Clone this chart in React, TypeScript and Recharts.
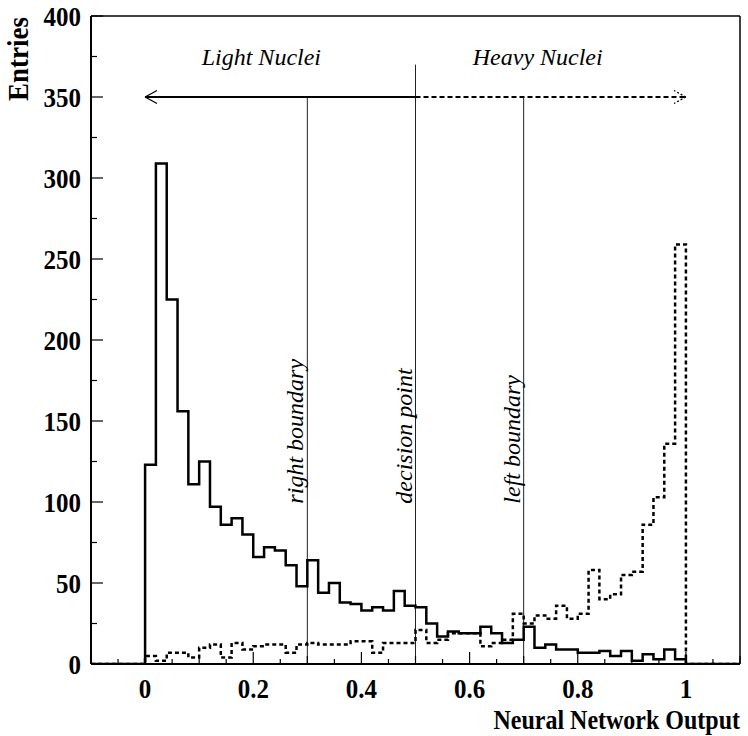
import React from 'react';
import { ComposedChart, Line, XAxis, YAxis, ReferenceLine, Scatter } from 'recharts';

// histogram binning: 60 bins of 0.02 over the axis range, data only in [0, 1]
const BIN_WIDTH = 0.02;
const X_MIN = -0.1;
const X_MAX = 1.1;
const DATA_MIN = 0;

// entries per bin, 0.00 .. 1.00
const lightNuclei = [
  123, 309, 225, 156, 111, 125, 97, 86, 90, 80,
  66, 72, 70, 61, 48, 64, 44, 50, 38, 37,
  33, 35, 33, 45, 36, 35, 25, 17, 20, 19,
  19, 23, 19, 13, 15, 23, 10, 12, 9, 9,
  7, 7, 8, 5, 8, 2, 6, 3, 9, 3,
];
const heavyNuclei = [
  5, 2, 7, 7, 4, 10, 12, 4, 13, 9,
  11, 12, 12, 7, 12, 13, 12, 12, 12, 14,
  14, 7, 13, 13, 13, 21, 13, 15, 19, 19,
  19, 11, 13, 15, 31, 25, 30, 28, 36, 28,
  31, 58, 40, 43, 55, 57, 86, 103, 136, 259,
];

const xTicks = [
  -0.1, -0.05, 0, 0.05, 0.1, 0.15, 0.2, 0.25, 0.3, 0.35, 0.4, 0.45, 0.5,
  0.55, 0.6, 0.65, 0.7, 0.75, 0.8, 0.85, 0.9, 0.95, 1, 1.05, 1.1,
];
const xLabels = [0, 0.2, 0.4, 0.6, 0.8, 1];
const yTicks = [0, 25, 50, 75, 100, 125, 150, 175, 200, 225, 250, 275, 300, 325, 350, 375, 400];
const yLabels = [0, 50, 100, 150, 200, 250, 300, 350, 400];

const boundaries = [
  { x: 0.3, top: 350 },
  { x: 0.5, top: 370 },
  { x: 0.7, top: 350 },
];
const ARROW_Y = 350;

const annotations = [
  { x: 0.215, y: 370, text: 'Light Nuclei', vertical: false },
  { x: 0.726, y: 370, text: 'Heavy Nuclei', vertical: false },
  { x: 0.2925, y: 99, text: 'right boundary', vertical: true },
  { x: 0.493, y: 99, text: 'decision point', vertical: true },
  { x: 0.694, y: 99, text: 'left boundary', vertical: true },
];

const FONT = '"Liberation Serif", "Times New Roman", serif';
const STRETCH = 1.12; // root's bold labels look a little taller than Times

// bin edges with the value of the bin that starts there (stepAfter)
const nBins = Math.round((X_MAX - X_MIN) / BIN_WIDTH);
const offset = Math.round((DATA_MIN - X_MIN) / BIN_WIDTH);
const histo = [];
for (let i = 0; i <= nBins; i++) {
  const k = i - offset;
  histo.push({
    x: Math.round((X_MIN + i * BIN_WIDTH) * 1000) / 1000,
    light: k >= 0 && k < lightNuclei.length ? lightNuclei[k] : 0,
    heavy: k >= 0 && k < heavyNuclei.length ? heavyNuclei[k] : 0,
  });
}

const BoldText = ({ x, y, anchor, size, rotate, children }: any) => (
  <text
    transform={`translate(${x} ${y})${rotate ? ' rotate(-90)' : ''} scale(1 ${STRETCH})`}
    textAnchor={anchor}
    fontSize={size}
    fontWeight="bold"
    fontFamily={FONT}
    fill="#000"
  >
    {children}
  </text>
);

const XTick = (props: any) => {
  const { x, y, payload } = props;
  const v = payload.value;
  const k = Math.round(v * 20);
  const len = k % 4 === 0 ? 12 : k % 2 === 0 ? 8 : 5;
  const label = xLabels.find((l) => Math.abs(l - v) < 1e-6);
  return (
    <g>
      <line x1={x} y1={y} x2={x} y2={y - len} stroke="#000" strokeWidth={1.2} />
      {label !== undefined && (
        <BoldText x={x} y={y + 34} anchor="middle" size={25}>{String(label)}</BoldText>
      )}
    </g>
  );
};

const YTick = (props: any) => {
  const { x, y, payload } = props;
  const v = payload.value;
  const major = yLabels.includes(v);
  return (
    <g>
      <line x1={x} y1={y} x2={x + (major ? 12 : 6)} y2={y} stroke="#000" strokeWidth={1.2} />
      {major && <BoldText x={x - 10} y={y + 10} anchor="end" size={25}>{v}</BoldText>}
    </g>
  );
};

const Annotation = (props: any) => {
  const { cx, cy, payload } = props;
  if (payload.vertical) {
    return (
      <text x={cx} y={cy} transform={`rotate(-90 ${cx} ${cy})`} textAnchor="start"
        fontSize={24} fontStyle="italic" fontFamily={FONT} fill="#000">
        {payload.text}
      </text>
    );
  }
  return (
    <text x={cx} y={cy} textAnchor="middle" fontSize={24} fontStyle="italic" fontFamily={FONT} fill="#000">
      {payload.text}
    </text>
  );
};

export default function App() {
  return (
    <div style={{ position: 'absolute', left: 0, top: 0, width: 748, height: 736, background: '#fff' }}>
      <ComposedChart width={748} height={736} data={histo} margin={{ top: 16, right: 8, left: 0, bottom: 0 }}>
        <XAxis dataKey="x" type="number" domain={[X_MIN, X_MAX]} ticks={xTicks} allowDataOverflow
          height={72} tickSize={0} tickMargin={0} tick={<XTick />} interval={0}
          axisLine={{ stroke: '#000', strokeWidth: 2 }} />
        <YAxis type="number" domain={[0, 400]} ticks={yTicks} allowDataOverflow width={91}
          tickSize={0} tickMargin={0} tick={<YTick />} interval={0}
          axisLine={{ stroke: '#000', strokeWidth: 2 }} />
        <ReferenceLine y={400} stroke="#000" strokeWidth={1.5} />
        <ReferenceLine x={X_MAX} stroke="#000" strokeWidth={1.5} />

        {boundaries.map((b) => (
          <ReferenceLine key={b.x} segment={[{ x: b.x, y: 0 }, { x: b.x, y: b.top }]} stroke="#222" strokeWidth={1} />
        ))}

        <ReferenceLine segment={[{ x: 0, y: ARROW_Y }, { x: 0.5, y: ARROW_Y }]} stroke="#000" strokeWidth={2} />
        <ReferenceLine segment={[{ x: 0.5, y: ARROW_Y }, { x: 1, y: ARROW_Y }]} stroke="#000" strokeWidth={2} strokeDasharray="5 3" />
        <ReferenceLine segment={[{ x: 0, y: ARROW_Y }, { x: 0.022, y: ARROW_Y + 4 }]} stroke="#000" strokeWidth={1.3} />
        <ReferenceLine segment={[{ x: 0, y: ARROW_Y }, { x: 0.022, y: ARROW_Y - 4 }]} stroke="#000" strokeWidth={1.3} />
        <ReferenceLine segment={[{ x: 1, y: ARROW_Y }, { x: 0.978, y: ARROW_Y + 4 }]} stroke="#000" strokeWidth={1.3} strokeDasharray="2 2" />
        <ReferenceLine segment={[{ x: 1, y: ARROW_Y }, { x: 0.978, y: ARROW_Y - 4 }]} stroke="#000" strokeWidth={1.3} strokeDasharray="2 2" />

        <Line type="stepAfter" dataKey="heavy" stroke="#000" strokeWidth={2.5} strokeDasharray="4 3"
          dot={false} activeDot={false} isAnimationActive={false} />
        <Line type="stepAfter" dataKey="light" stroke="#000" strokeWidth={2.5}
          dot={false} activeDot={false} isAnimationActive={false} />

        <Scatter data={annotations} dataKey="y" shape={<Annotation />} isAnimationActive={false} />
      </ComposedChart>
      <svg width={748} height={736} style={{ position: 'absolute', left: 0, top: 0, pointerEvents: 'none' }}>
        <BoldText x={28} y={101} rotate size={27}>Entries</BoldText>
        <BoldText x={740} y={729} anchor="end" size={24}>Neural Network Output</BoldText>
      </svg>
    </div>
  );
}
